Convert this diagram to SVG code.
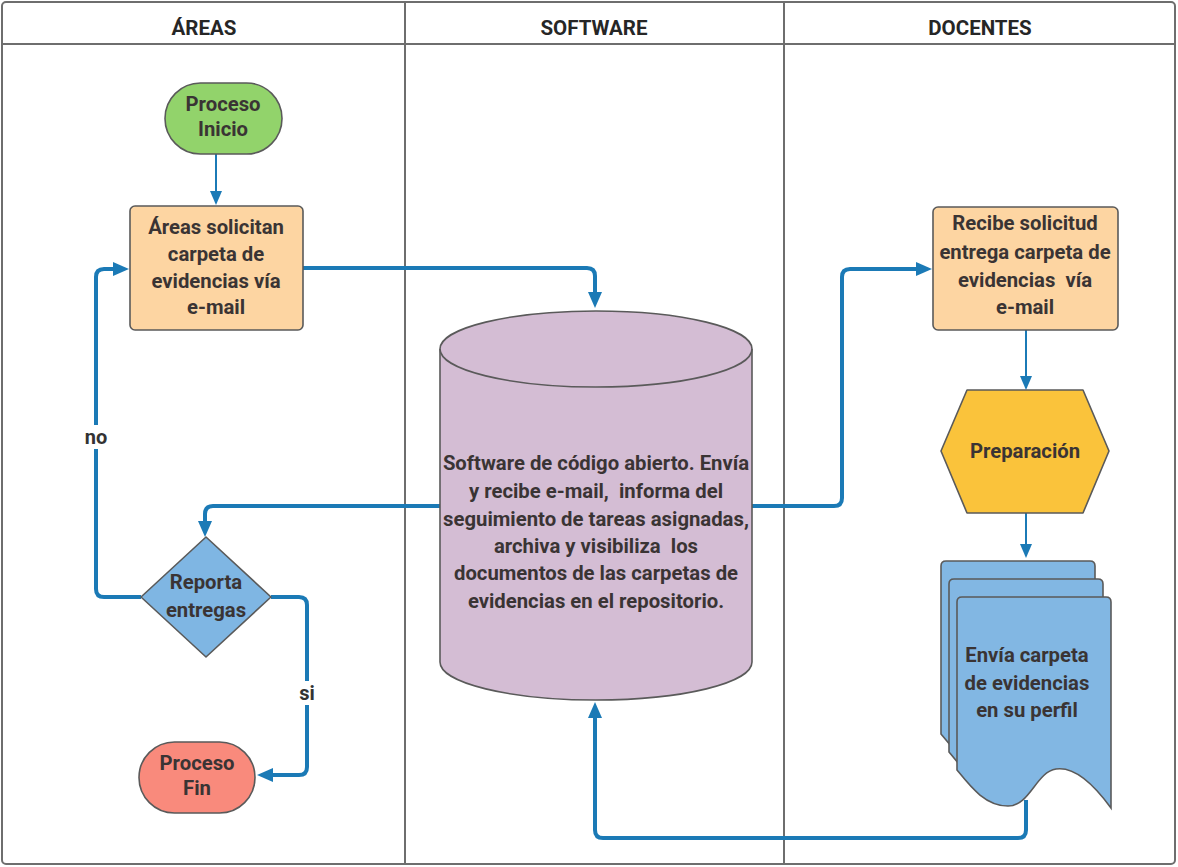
<svg xmlns="http://www.w3.org/2000/svg" width="1178" height="867" viewBox="0 0 1178 867">
  <defs>
    <style>
      .lane { fill: none; stroke: #6e6e6e; stroke-width: 2; }
      .hdr { font-family: Roboto, "Liberation Sans", sans-serif; font-weight: bold; font-size: 20.5px; fill: #262626; text-anchor: middle; }
      .lbl { font-family: Roboto, "Liberation Sans", sans-serif; font-weight: bold; font-size: 20.3px; fill: #3a3434; text-anchor: middle; white-space: pre; }
      .shape { stroke: #5a5a5a; stroke-width: 1.6; }
      .conn { fill: none; stroke: #1b7ab6; stroke-linejoin: round; }
      .thick { stroke-width: 4; marker-end: url(#arrow); }
      .thin { stroke-width: 2; marker-end: url(#arrowThin); }
      .tag { font-family: Roboto, "Liberation Sans", sans-serif; font-weight: bold; font-size: 20px; fill: #333; text-anchor: middle; }
    </style>
    <marker id="arrow" viewBox="0 0 16 14" markerWidth="16" markerHeight="14" refX="4" refY="7" orient="auto" markerUnits="userSpaceOnUse">
      <path d="M0,0 L16,7 L0,14 Z" fill="#1b7ab6"/>
    </marker>
    <marker id="arrowThin" viewBox="0 0 14 12" markerWidth="14" markerHeight="12" refX="3" refY="6" orient="auto" markerUnits="userSpaceOnUse">
      <path d="M0,0 L14,6 L0,12 Z" fill="#1b7ab6"/>
    </marker>
    <!-- one page of the stacked document symbol -->
    <path id="page" d="M957,602 Q957,597 962,597 H1106 Q1111,597 1111,602 V808 C1095,786 1076,766 1056,769 C1036,772 1030,806 1008,806 C985,806 970,786 957,770 Z"/>
  </defs>

  <rect width="1178" height="867" fill="#ffffff"/>

  <!-- swimlanes -->
  <g id="lanes">
    <rect class="lane" x="2" y="2" width="1173" height="862" rx="4"/>
    <line class="lane" x1="2" y1="44" x2="1175" y2="44"/>
    <line class="lane" x1="405" y1="2" x2="405" y2="864"/>
    <line class="lane" x1="784" y1="2" x2="784" y2="864"/>
    <text class="hdr" x="204" y="35">ÁREAS</text>
    <text class="hdr" x="594" y="35">SOFTWARE</text>
    <text class="hdr" x="980" y="35">DOCENTES</text>
  </g>

  <!-- connectors -->
  <g id="connectors">
    <path class="conn thin" d="M216,154 V194"/>
    <path class="conn thick" d="M303,268 H587 Q595,268 595,276 V296"/>
    <path class="conn thick" d="M440,506 H213 Q205,506 205,514 V525"/>
    <path class="conn thick" d="M141,597 H104 Q96,597 96,589 V277 Q96,269 104,269 H117"/>
    <path class="conn thick" d="M271,597 H299 Q307,597 307,605 V767 Q307,775 299,775 H269"/>
    <path class="conn thick" d="M752,506 H834 Q842,506 842,498 V277 Q842,269 850,269 H920"/>
    <path class="conn thin" d="M1026,330 V379"/>
    <path class="conn thin" d="M1026,513 V547"/>
    <path class="conn thick" d="M1026,800 V830 Q1026,838 1018,838 H603 Q595,838 595,830 V714"/>
    <rect x="84" y="425" width="24" height="24" fill="#ffffff"/>
    <text class="tag" x="96" y="444">no</text>
    <rect x="297" y="681" width="20" height="24" fill="#ffffff"/>
    <text class="tag" x="307" y="700">si</text>
  </g>

  <!-- Áreas lane -->
  <g id="inicio">
    <rect class="shape" x="165" y="83" width="117" height="71" rx="35.5" fill="#92d36b"/>
    <text class="lbl" x="223" y="111">Proceso</text>
    <text class="lbl" x="223" y="136">Inicio</text>
  </g>
  <g id="solicitan">
    <rect class="shape" x="130" y="206" width="173" height="124" rx="5" fill="#fdd5a2"/>
    <text class="lbl" x="216" y="234">Áreas solicitan</text>
    <text class="lbl" x="216" y="261">carpeta de</text>
    <text class="lbl" x="216" y="288">evidencias vía</text>
    <text class="lbl" x="216" y="314">e-mail</text>
  </g>
  <g id="reporta">
    <path class="shape" d="M206,537 L271,597 L206,657 L141,597 Z" fill="#7fb6e3" stroke-linejoin="round"/>
    <text class="lbl" x="206" y="589">Reporta</text>
    <text class="lbl" x="206" y="617">entregas</text>
  </g>
  <g id="fin">
    <rect class="shape" x="139" y="742" width="116" height="71" rx="35.5" fill="#f98a7c"/>
    <text class="lbl" x="197" y="770">Proceso</text>
    <text class="lbl" x="197" y="795">Fin</text>
  </g>

  <!-- Software lane -->
  <g id="repositorio">
    <path class="shape" d="M440,349 V662 A156,38 0 0 0 752,662 V349 A156,38 0 0 0 440,349 Z" fill="#d4bdd4"/>
    <path class="shape" d="M440,349 A156,38 0 0 0 752,349" fill="none"/>
    <text class="lbl" x="596" y="470">Software de código abierto. Envía</text>
    <text class="lbl" x="596" y="498">y recibe e-mail,  informa del</text>
    <text class="lbl" x="596" y="526">seguimiento de tareas asignadas,</text>
    <text class="lbl" x="596" y="553">archiva y visibiliza  los</text>
    <text class="lbl" x="596" y="580">documentos de las carpetas de</text>
    <text class="lbl" x="596" y="608">evidencias en el repositorio.</text>
  </g>

  <!-- Docentes lane -->
  <g id="recibe">
    <rect class="shape" x="933" y="207" width="185" height="123" rx="5" fill="#fdd5a2"/>
    <text class="lbl" x="1025" y="230">Recibe solicitud</text>
    <text class="lbl" x="1025" y="259">entrega carpeta de</text>
    <text class="lbl" x="1025" y="287">evidencias  vía</text>
    <text class="lbl" x="1025" y="314">e-mail</text>
  </g>
  <g id="preparacion">
    <path class="shape" d="M967,390 H1083 L1109,451 L1083,513 H967 L941,451 Z" fill="#fac33b" stroke-linejoin="round"/>
    <text class="lbl" x="1025" y="458">Preparación</text>
  </g>
  <g id="envia">
    <use href="#page" class="shape" fill="#82b7e3" transform="translate(-16,-36)"/>
    <use href="#page" class="shape" fill="#82b7e3" transform="translate(-8,-18)"/>
    <use href="#page" class="shape" fill="#82b7e3"/>
    <text class="lbl" x="1027" y="662">Envía carpeta</text>
    <text class="lbl" x="1027" y="690">de evidencias</text>
    <text class="lbl" x="1027" y="717">en su perfil</text>
  </g>
</svg>
